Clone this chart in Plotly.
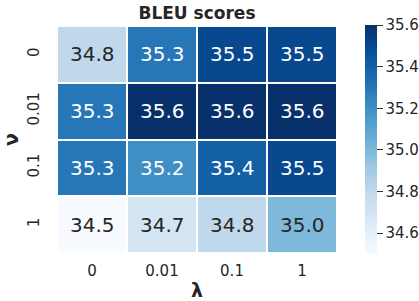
import plotly.graph_objects as go

x_labels = ["0", "0.01", "0.1", "1"]
y_labels = ["0", "0.01", "0.1", "1"]
bleu = [
    [34.8, 35.3, 35.5, 35.5],
    [35.3, 35.6, 35.6, 35.6],
    [35.3, 35.2, 35.4, 35.5],
    [34.5, 34.7, 34.8, 35.0],
]
zmin, zmax = 34.5, 35.6

blues = ["#f7fbff", "#deebf7", "#c6dbef", "#9ecae1", "#6baed6",
         "#4292c6", "#2171b5", "#08519c", "#08306b"]
colorscale = [[i / (len(blues) - 1), c] for i, c in enumerate(blues)]

fig = go.Figure()
fig.add_trace(go.Heatmap(
    z=bleu, x=x_labels, y=y_labels,
    colorscale=colorscale, zmin=zmin, zmax=zmax,
    xgap=2, ygap=2, hoverongaps=False,
    colorbar=dict(
        x=1.064, xanchor="left", y=0.5, yanchor="middle",
        len=1.01, lenmode="fraction", thickness=12, ypad=0,
        outlinewidth=0, ticks="outside", ticklen=6, tickwidth=1,
        tickcolor="#333333",
        tickvals=[34.6, 34.8, 35.0, 35.2, 35.4, 35.6],
        ticktext=["34.6", "34.8", "35.0", "35.2", "35.4", "35.6"],
        tickfont=dict(family="DejaVu Sans", size=15, color="#262626"),
    ),
))

for i, row in enumerate(bleu):
    for j, v in enumerate(row):
        frac = (v - zmin) / (zmax - zmin)
        fig.add_annotation(
            x=j, y=i, xref="x", yref="y", text=f"{v:.1f}", showarrow=False,
            font=dict(family="DejaVu Sans", size=20,
                      color="white" if frac > 0.55 else "#262626"),
        )

fig.update_layout(
    width=419, height=301,
    margin=dict(l=57, r=82, t=26, b=48, autoexpand=False),
    paper_bgcolor="white", plot_bgcolor="white",
    title=dict(text="<b>BLEU scores</b>", x=(57 + 337) / 2 / 419, xanchor="center",
               y=1 - 13 / 301, yanchor="middle",
               font=dict(family="DejaVu Sans", size=17, color="#262626")),
    xaxis=dict(type="category", showgrid=False, zeroline=False, ticks="",
               automargin=False, ticklabelstandoff=7,
               tickfont=dict(family="DejaVu Sans", size=15, color="#262626"),
               title=dict(text="<b>λ</b>", standoff=4,
                          font=dict(family="DejaVu Sans", size=19, color="#262626"))),
    yaxis=dict(type="category", showgrid=False, zeroline=False, ticks="",
               autorange="reversed", automargin=False,
               tickangle=-90, ticklabelstandoff=14,
               tickfont=dict(family="DejaVu Sans", size=15, color="#262626"),
               title=dict(text="<b>ν</b>", standoff=2,
                          font=dict(family="DejaVu Sans", size=19, color="#262626"))),
)

fig.write_html("out.html",
               config={"displayModeBar": False},
               post_script="document.body.style.margin='0';document.body.style.overflow='hidden';")
